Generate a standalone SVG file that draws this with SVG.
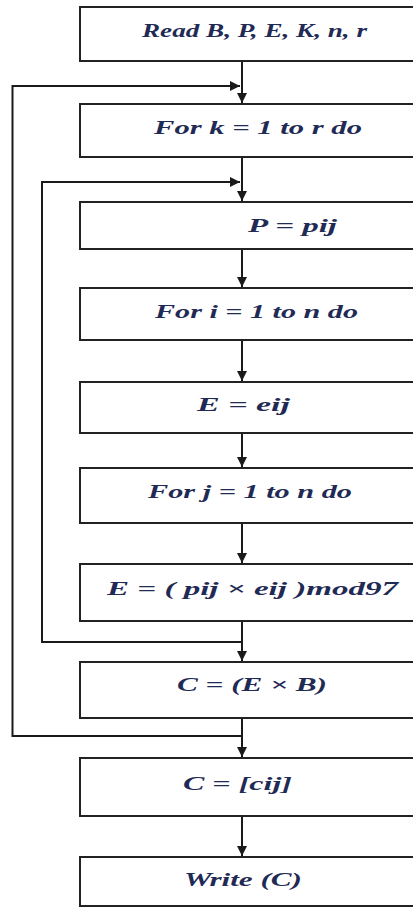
<svg xmlns="http://www.w3.org/2000/svg" width="413" height="907" viewBox="0 0 413 907">
  <style>
    .box { fill: #ffffff; stroke: #222222; stroke-width: 2; }
    .lbl { font-family: "Liberation Serif", "DejaVu Serif", serif; font-style: italic; font-weight: bold; font-size: 19px; fill: #1f2a55; }
    .wire { fill: none; stroke: #1a1a1a; stroke-width: 2; }
  </style>
  <defs>
    <marker id="head" viewBox="0 0 10 10" refX="10" refY="5" markerWidth="10" markerHeight="10" markerUnits="userSpaceOnUse" orient="auto">
      <path d="M0,0 L10,5 L0,10 Z" fill="#1a1a1a"/>
    </marker>
  </defs>

  <rect width="413" height="907" fill="#ffffff"/>

  <!-- connectors -->
  <g id="connectors">
    <path class="wire" d="M242,61 V103" marker-end="url(#head)"/>
    <path class="wire" d="M242,157 V201" marker-end="url(#head)"/>
    <path class="wire" d="M242,249 V287" marker-end="url(#head)"/>
    <path class="wire" d="M242,340 V381" marker-end="url(#head)"/>
    <path class="wire" d="M242,433 V467" marker-end="url(#head)"/>
    <path class="wire" d="M242,523 V563" marker-end="url(#head)"/>
    <path class="wire" d="M242,621 V661" marker-end="url(#head)"/>
    <path class="wire" d="M242,718 V757" marker-end="url(#head)"/>
    <path class="wire" d="M242,816 V856" marker-end="url(#head)"/>
    <!-- outer loop (k) -->
    <path class="wire" d="M242,736 H12.5 V86 H240" marker-end="url(#head)"/>
    <!-- inner loop (i, j) -->
    <path class="wire" d="M242,642 H42 V182 H240" marker-end="url(#head)"/>
  </g>

  <g id="read">
    <rect class="box" x="80" y="7" width="350" height="54"/>
    <text class="lbl" x="142" y="37" textLength="225" lengthAdjust="spacingAndGlyphs">Read B, P, E, K, n, r</text>
  </g>
  <g id="for-k">
    <rect class="box" x="80" y="104" width="350" height="53"/>
    <text class="lbl" x="154" y="134" textLength="208" lengthAdjust="spacingAndGlyphs">For k = 1 to r do</text>
  </g>
  <g id="assign-p">
    <rect class="box" x="80" y="202" width="350" height="47"/>
    <text class="lbl" x="248" y="232" textLength="89" lengthAdjust="spacingAndGlyphs">P = pij</text>
  </g>
  <g id="for-i">
    <rect class="box" x="80" y="288" width="350" height="52"/>
    <text class="lbl" x="155" y="318" textLength="203" lengthAdjust="spacingAndGlyphs">For i = 1 to n do</text>
  </g>
  <g id="assign-e">
    <rect class="box" x="80" y="382" width="350" height="51"/>
    <text class="lbl" x="197" y="411" textLength="93" lengthAdjust="spacingAndGlyphs">E =  eij</text>
  </g>
  <g id="for-j">
    <rect class="box" x="80" y="468" width="350" height="55"/>
    <text class="lbl" x="148" y="498" textLength="204" lengthAdjust="spacingAndGlyphs">For j = 1 to n do</text>
  </g>
  <g id="mod-step">
    <rect class="box" x="80" y="564" width="350" height="57"/>
    <text class="lbl" x="107" y="595" textLength="291" lengthAdjust="spacingAndGlyphs">E =  ( pij  ×  eij )mod97</text>
  </g>
  <g id="product">
    <rect class="box" x="80" y="662" width="350" height="56"/>
    <text class="lbl" x="177" y="691" textLength="150" lengthAdjust="spacingAndGlyphs">C =  (E × B)</text>
  </g>
  <g id="matrix-c">
    <rect class="box" x="80" y="758" width="350" height="58"/>
    <text class="lbl" x="183" y="790" textLength="109" lengthAdjust="spacingAndGlyphs">C =  [cij]</text>
  </g>
  <g id="write">
    <rect class="box" x="80" y="857" width="350" height="49"/>
    <text class="lbl" x="184" y="886" textLength="118" lengthAdjust="spacingAndGlyphs">Write (C)</text>
  </g>
</svg>
